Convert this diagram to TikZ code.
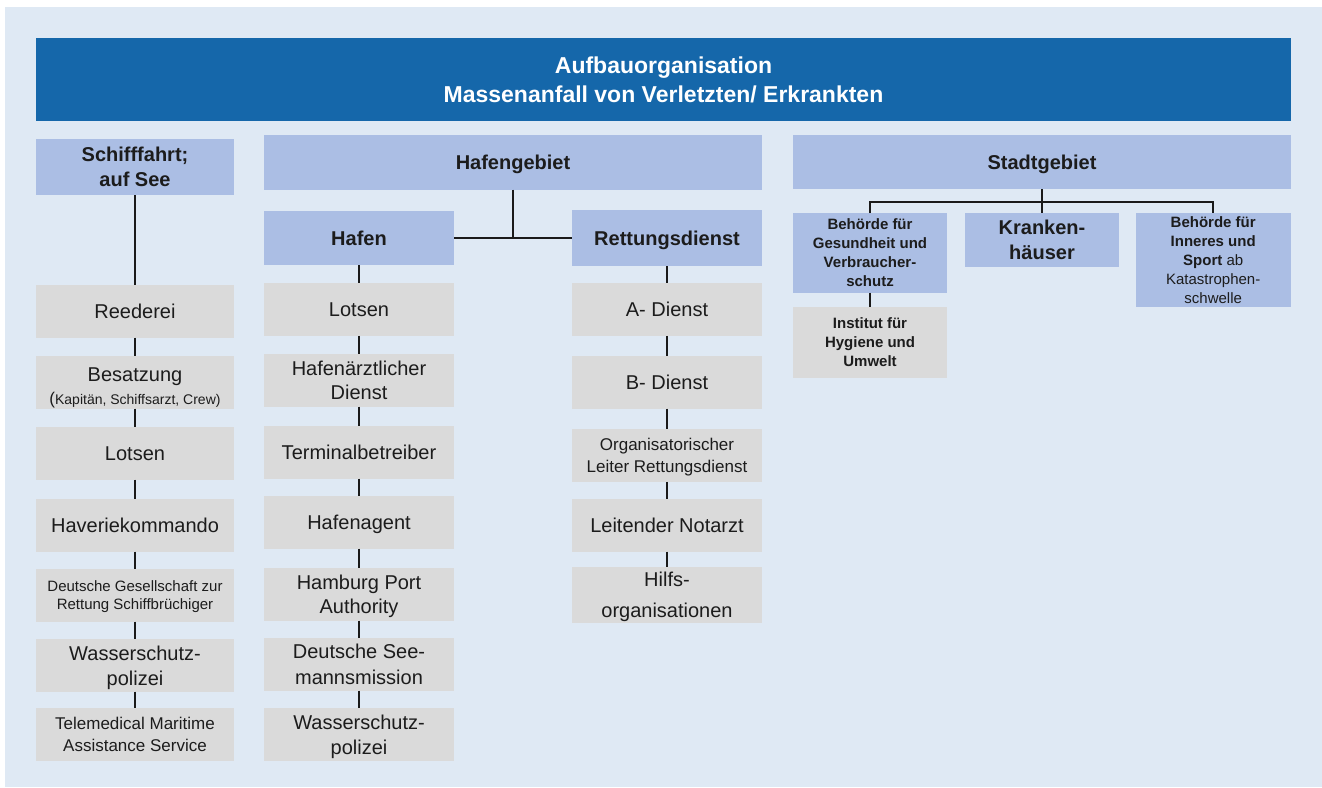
\documentclass[tikz,border=0pt]{standalone}
\usepackage{fontspec}
\setmainfont{Liberation Sans}
\definecolor{bgc}{HTML}{DFE9F4}
\definecolor{titleblue}{HTML}{1567AA}
\definecolor{headblue}{HTML}{ABBEE4}
\definecolor{graybox}{HTML}{DADADA}
\definecolor{txt}{HTML}{1C1C1C}
\definecolor{linec}{HTML}{1A1A1A}
\begin{document}
\begin{tikzpicture}[x=1pt,y=-1pt,
  box/.style={inner sep=0pt, outer sep=0pt, align=center, text=txt, text depth=0pt},
  titlebox/.style={box, fill=titleblue, text=white, font=\bfseries\fontsize{23}{29}\selectfont},
  headbox/.style={box, fill=headblue, font=\bfseries\fontsize{20}{25}\selectfont},
  subbox/.style={box, fill=headblue, font=\bfseries\fontsize{15}{19}\selectfont},
  graynode/.style={box, fill=graybox, font=\fontsize{20}{24}\selectfont},
  lcol/.style={graynode, minimum width=198pt, minimum height=52.7pt},
  mcol/.style={graynode, minimum width=190pt, minimum height=52.7pt},
  rcol/.style={graynode, minimum width=190pt, minimum height=52.7pt},
  link/.style={line width=2pt, draw=linec}
]
\useasboundingbox (0,0) rectangle (1322,787);
\fill[bgc] (5,7) rectangle (1322,787);

% title
\node[titlebox, minimum width=1255pt, minimum height=83pt] (title) at (663.5,79.5)
  {Aufbauorganisation\\Massenanfall von Verletzten/ Erkrankten};

% headers
\node[headbox, minimum width=198pt, minimum height=56pt] (schiff) at (135,167) {Schifffahrt;\\auf See};
\node[headbox, minimum width=498pt, minimum height=54.5pt] (hgeb) at (513,162.25) {Hafengebiet};
\node[headbox, minimum width=498pt, minimum height=54pt] (sgeb) at (1042,162) {Stadtgebiet};
\node[headbox, minimum width=190pt, minimum height=54pt] (hafen) at (359,238) {Hafen};
\node[headbox, minimum width=190pt, minimum height=56pt] (rett) at (667,238) {Rettungsdienst};

% Stadtgebiet boxes
\node[subbox, minimum width=154pt, minimum height=79.7pt] (bgv) at (870,252.85)
  {Behörde für\\Gesundheit und\\Verbraucher-\\schutz};
\node[headbox, minimum width=154.5pt, minimum height=53.7pt] (kh) at (1042,239.85)
  {Kranken-\\häuser};
\node[subbox, minimum width=155pt, minimum height=93.7pt] (bis) at (1213.2,259.85)
  {Behörde für\\Inneres und\\Sport {\mdseries ab}\\{\mdseries Katastrophen-}\\{\mdseries schwelle}};
\node[subbox, fill=graybox, minimum width=154pt, minimum height=71.3pt] (ihu) at (870,342.35)
  {Institut für\\Hygiene und\\Umwelt};

% left column
\node[lcol] (l1) at (135,311.35) {Reederei};
\node[lcol] (l2) at (135,382.35) {\rule{0pt}{21pt}Besatzung\\[-1.7pt]{\fontsize{14}{16}\selectfont{\fontsize{17}{16}\selectfont(}Kapitän, Schiffsarzt, Crew)}};
\node[lcol] (l3) at (135,453.35) {Lotsen};
\node[lcol] (l4) at (135,525.35) {Haveriekommando};
\node[lcol, font=\fontsize{15}{17.7}\selectfont] (l5) at (135,595.35) {Deutsche Gesellschaft zur\\Rettung Schiffbrüchiger};
\node[lcol, font=\fontsize{20}{25}\selectfont] (l6) at (135,665.35) {Wasserschutz-\\polizei};
\node[lcol, font=\fontsize{17}{21.7}\selectfont] (l7) at (135,734.35) {Telemedical Maritime\\Assistance Service};

% middle column
\node[mcol] (m1) at (359,309.5) {Lotsen};
\node[mcol, font=\fontsize{20}{23.3}\selectfont] (m2) at (359,380.35) {Hafenärztlicher\\Dienst};
\node[mcol] (m3) at (359,452.35) {Terminalbetreiber};
\node[mcol] (m4) at (359,522.35) {Hafenagent};
\node[mcol] (m5) at (359,594.35) {Hamburg Port\\Authority};
\node[mcol, font=\fontsize{20}{25.7}\selectfont] (m6) at (359,664.35) {Deutsche See-\\mannsmission};
\node[mcol, font=\fontsize{20}{25}\selectfont] (m7) at (359,734.35) {Wasserschutz-\\polizei};

% right column
\node[rcol] (r1) at (667,309.5) {A- Dienst};
\node[rcol] (r2) at (667,382.35) {B- Dienst};
\node[rcol, font=\fontsize{17}{21.7}\selectfont] (r3) at (667,455.5) {Organisatorischer\\Leiter Rettungsdienst};
\node[rcol] (r4) at (667,525.35) {Leitender Notarzt};
\node[rcol, minimum height=55.7pt, font=\fontsize{20}{31.7}\selectfont] (r5) at (667,594.85) {Hilfs-\\organisationen};

% connectors
\draw[link] (schiff.south) -- (l1.north);
\foreach \a/\b in {l1/l2,l2/l3,l3/l4,l4/l5,l5/l6,l6/l7,
                   hafen/m1,m1/m2,m2/m3,m3/m4,m4/m5,m5/m6,m6/m7,
                   rett/r1,r1/r2,r2/r3,r3/r4,r4/r5}
  \draw[link] (\a.south) -- (\b.north);
\draw[link] (hafen.east) -- (rett.west);
\draw[link] (hgeb.south) -- (hgeb.south |- hafen.east);
\coordinate (sj) at (1042,202);
\draw[link] (sgeb.south) -- (kh.north);
\draw[link] (bgv.north) -- (bgv.north |- sj) -- (bis.north |- sj) -- (bis.north);
\draw[link] (bgv.south) -- (ihu.north);
\end{tikzpicture}
\end{document}
